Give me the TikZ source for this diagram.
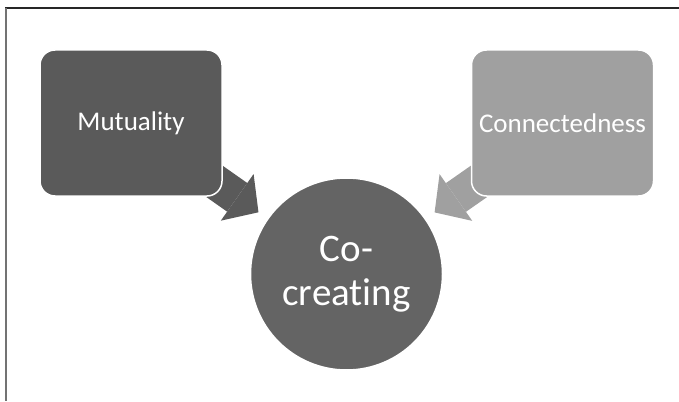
\documentclass[tikz,border=0pt]{standalone}
\usepackage{fontspec}
\setmainfont{Carlito}[Ligatures=NoCommon]
\usetikzlibrary{arrows.meta,backgrounds}
\definecolor{darkbox}{HTML}{5A5A5A}
\definecolor{lightbox}{HTML}{A0A0A0}
\definecolor{roundfill}{HTML}{646464}

\begin{document}
\begin{tikzpicture}
[x=1pt,y=-1pt,
  boxDecorate/.style={shape=rectangle,rounded corners=15pt,draw=white,line width=1.5pt,
    minimum width=182pt,minimum height=146pt,inner sep=0pt,text=white,
    font=\fontsize{27}{32}\selectfont},%
  circleDecorate/.style={shape=circle,minimum size=192pt,inner sep=0pt,outer sep=0pt,
    fill=roundfill,draw=white,line width=1.5pt,text=white,align=center,
    font=\fontsize{39}{44}\selectfont},%
  arrowDecorate/.style={-{Triangle[length=26pt,width=57pt,line width=0pt]},
    line width=35pt,shorten <=-30pt,shorten >=11.5pt}]
\useasboundingbox (0,0) rectangle (679,401);
%% frame
\draw[black!85,line width=1.5pt] (5,8) -- (679,8);
\draw[black!55,line width=2pt] (5.5,8) -- (5.5,401);
%% nodes
\node (circ) at (346.5,274) [circleDecorate] {Co-\\creating};
\foreach \nodename/\x/\shade/\word in {
  mut/131/darkbox/Mutuality, con/562.5/lightbox/Connectedness}
{
  \node (\nodename) at (\x,123) [boxDecorate,fill=\shade] {\word};
}
%% arrows
\begin{scope}[on background layer]
  \draw[arrowDecorate,darkbox] (mut) -- (circ);
  \draw[arrowDecorate,lightbox] (con) -- (circ);
\end{scope}
\end{tikzpicture}
\end{document}
